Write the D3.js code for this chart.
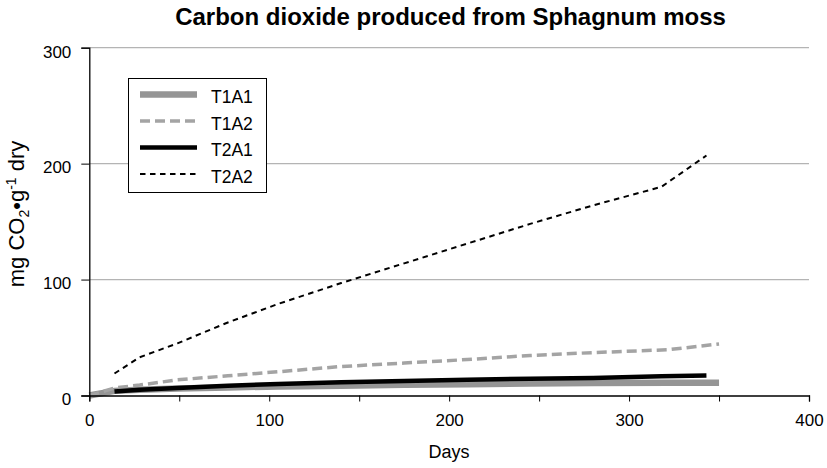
<!DOCTYPE html>
<html><head><meta charset="utf-8">
<script src="https://cdn.jsdelivr.net/npm/d3@7"></script>
<style>body{margin:0;background:#fff}svg{display:block;font-family:"Liberation Sans",Arial,sans-serif}</style>
</head><body><svg id="c" width="827" height="468"></svg>
<script>
const daysT1 = [0, 14, 28, 49, 77, 105, 140, 175, 210, 245, 280, 322, 350];
const daysT2 = [14, 28, 49, 77, 105, 140, 175, 210, 245, 280, 318, 343];
const T1A1 = [0, 4, 5, 6, 7, 7.8, 8.5, 9.2, 9.8, 10.3, 10.8, 11, 11];
const T1A2 = [0, 6.5, 9, 13.5, 17, 20.5, 25, 28, 31, 34.5, 37, 39.5, 44.5];
const T2A1 = [3.5, 5, 6.5, 8.5, 10, 11.5, 12.5, 13.5, 14.5, 15.2, 16.5, 17.2];
const T2A2 = [19, 33, 45, 63, 79, 97, 114, 131, 148, 164, 180, 207];
const seriesNames = ["T1A1", "T1A2", "T2A1", "T2A2"];
const xTicks = [0, 50, 100, 150, 200, 250, 300, 350, 400];
const xLabels = [0, 100, 200, 300, 400];
const yTicks = [0, 100, 200, 300];

const svg = d3.select("#c");
const x = d3.scaleLinear().domain([0, 400]).range([89.3, 809]);
const y = d3.scaleLinear().domain([0, 300]).range([395.5, 47.7]);

// gridlines
svg.append("g").selectAll("line").data(yTicks.filter(d => d > 0)).join("line")
  .attr("x1", x(0)).attr("x2", x(400)).attr("y1", d => y(d)).attr("y2", d => y(d))
  .attr("stroke", "#b4b4b4").attr("stroke-width", 1.3);

// title
svg.append("text").attr("x", 450.5).attr("y", 25).attr("text-anchor", "middle")
  .attr("font-weight", "bold").attr("font-size", 24).text("Carbon dioxide produced from Sphagnum moss");

const styles = {
  T1A1: {color: "#959595", width: 6.5, dash: null},
  T1A2: {color: "#a4a4a4", width: 3.5, dash: "10,5"},
  T2A1: {color: "#000", width: 4.5, dash: null},
  T2A2: {color: "#000", width: 2, dash: "5.5,4.5"}
};
const data = [
  {name: "T1A1", days: daysT1, vals: T1A1},
  {name: "T1A2", days: daysT1, vals: T1A2},
  {name: "T2A1", days: daysT2, vals: T2A1},
  {name: "T2A2", days: daysT2, vals: T2A2}
];
const line = d3.line().x(d => x(d[0])).y(d => y(d[1]));
data.forEach(s => {
  const st = styles[s.name];
  svg.append("path").datum(s.days.map((d, i) => [d, s.vals[i]]))
    .attr("d", line).attr("fill", "none").attr("stroke", st.color)
    .attr("stroke-width", st.width).attr("stroke-dasharray", st.dash);
});

// axes
const xAxis = d3.axisBottom(x).tickValues(xTicks).tickSize(6).tickPadding(12)
  .tickFormat(d => xLabels.includes(d) ? d : "");
const gx = svg.append("g").attr("transform", `translate(0,${y(0)})`).call(xAxis);
gx.select(".domain").attr("stroke", "#000").attr("stroke-width", 1.3);
gx.selectAll(".tick line").attr("stroke", "#000");
gx.selectAll("text").attr("font-size", 17).attr("font-family", "Liberation Sans, Arial").attr("fill", "#000");

const yAxis = d3.axisLeft(y).tickValues(yTicks).tickSize(8).tickPadding(10);
const gy = svg.append("g").attr("transform", `translate(${x(0)},0)`).call(yAxis);
gy.select(".domain").attr("stroke", "#000").attr("stroke-width", 1.3);
gy.selectAll(".tick line").attr("stroke", "#000");
gy.selectAll("text").attr("font-size", 17).attr("font-family", "Liberation Sans, Arial").attr("fill", "#000").attr("dy", "0.55em");

// axis titles
svg.append("text").attr("x", 449).attr("y", 458).attr("text-anchor", "middle")
  .attr("font-size", 18).text("Days");
const yl = svg.append("text").attr("transform", "translate(24,214) rotate(-90)")
  .attr("text-anchor", "middle").attr("font-size", 22);
yl.append("tspan").text("mg CO");
yl.append("tspan").attr("font-size", 14).attr("dy", 5).text("2");
yl.append("tspan").attr("dy", -5).text("•g");
yl.append("tspan").attr("font-size", 14).attr("dy", -8).text("-1");
yl.append("tspan").attr("dy", 8).text(" dry");

// legend
const lg = svg.append("g");
lg.append("rect").attr("x", 128.5).attr("y", 78.5).attr("width", 138).attr("height", 114)
  .attr("fill", "#fff").attr("stroke", "#000").attr("stroke-width", 1);
seriesNames.forEach((n, i) => {
  const yy = 94.5 + i * 26.5;
  const st = styles[n];
  lg.append("line").attr("x1", 140).attr("x2", 197).attr("y1", yy).attr("y2", yy)
    .attr("stroke", st.color).attr("stroke-width", st.width).attr("stroke-dasharray", st.dash);
  lg.append("text").attr("x", 211).attr("y", yy + 8.5).attr("font-size", 17.5).text(n);
});
</script></body></html>
